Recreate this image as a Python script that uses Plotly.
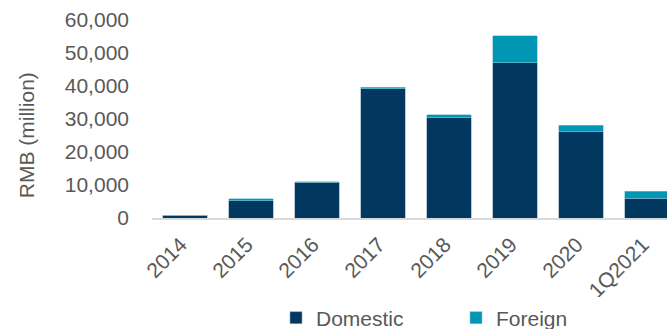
import plotly.graph_objects as go

categories = ["2014", "2015", "2016", "2017", "2018", "2019", "2020", "1Q2021"]
domestic = [800, 5200, 10900, 39100, 30400, 47000, 26200, 6050]
foreign = [0, 700, 150, 500, 900, 8200, 1900, 2000]
y_ticks = [0, 10000, 20000, 30000, 40000, 50000, 60000]

FONT = "Arial, 'Liberation Sans', sans-serif"
GREY = "#595959"

fig = go.Figure()
fig.add_trace(go.Bar(x=categories, y=domestic, name="Domestic",
                     marker=dict(color="#02375F", line=dict(color="#8DA6BC", width=0.6))))
fig.add_trace(go.Bar(x=categories, y=foreign, name="Foreign",
                     marker=dict(color="#0096B4", line=dict(color="#7FC4D6", width=0.6))))

fig.update_layout(
    width=667, height=329,
    margin=dict(l=152, r=0, t=20, b=111, autoexpand=False),
    barmode="stack", bargap=0.333,
    plot_bgcolor="white", paper_bgcolor="white",
    font=dict(family=FONT, size=21, color=GREY),
    showlegend=True,
    legend=dict(orientation="h", x=0.2408, xanchor="left", y=-0.505, yanchor="middle",
                font=dict(size=21, color=GREY), entrywidth=135, entrywidthmode="pixels",
                traceorder="normal"),
)
fig.update_xaxes(type="category", range=[-0.5, 7.303], tickangle=-45, automargin=False,
                 showline=True, linecolor="#D9D9D9", linewidth=2, ticks="",
                 ticksuffix=" ", tickfont=dict(size=21, color=GREY), showgrid=False)
fig.update_yaxes(range=[0, 60000], tickvals=y_ticks, tickformat=",d", automargin=False,
                 showgrid=False, zeroline=False, showline=False, ticks="",
                 ticklabelstandoff=22, tickfont=dict(size=21, color=GREY))
fig.add_annotation(text="RMB (million)", xref="paper", yref="paper",
                   x=-125.3 / 515, y=0.4167, xanchor="center", yanchor="middle",
                   textangle=-90, showarrow=False, font=dict(size=21, color=GREY))

fig.write_html("out.html")
